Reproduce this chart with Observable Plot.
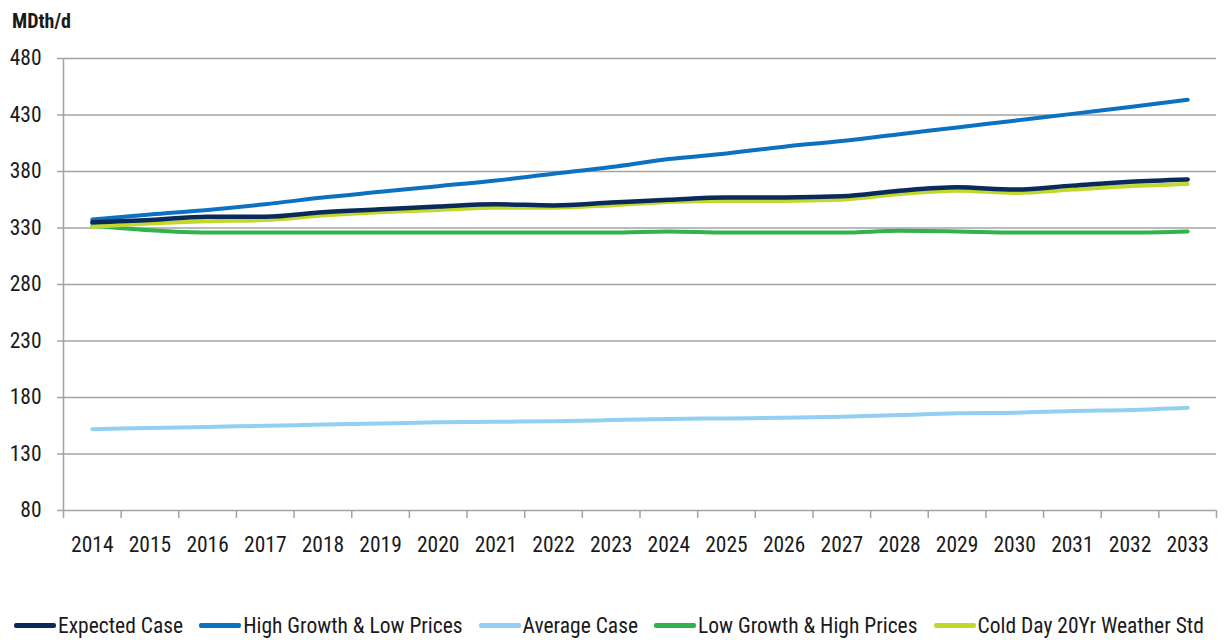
<!DOCTYPE html>
<html>
<head>
<meta charset="utf-8">
<script src="https://cdn.jsdelivr.net/npm/d3@7"></script>
<script src="https://cdn.jsdelivr.net/npm/@observablehq/plot@0.6"></script>
<style>
  html, body { margin: 0; padding: 0; background: #fff; }
  body { width: 1229px; height: 640px; position: relative; overflow: hidden;
         font-family: "Liberation Sans Narrow", "Roboto Condensed", "Liberation Sans", sans-serif; color: #1a1a1a; }
  #title { position: absolute; left: 12px; top: 9px; font-size: 20px; font-weight: bold; }
  #chart { position: absolute; left: 0; top: 40px; }
  #legend { position: absolute; left: 14px; top: 613px; display: flex; align-items: center; font-size: 21.5px; white-space: nowrap; }
  .item { display: flex; align-items: center; margin-right: 16px; }
  .sw { width: 42px; height: 5px; border-radius: 2px; margin-right: 2px; }
</style>
</head>
<body>
<div id="title">MDth/d</div>
<div id="chart"></div>
<div id="legend"></div>
<script>
const years = [2014,2015,2016,2017,2018,2019,2020,2021,2022,2023,2024,2025,2026,2027,2028,2029,2030,2031,2032,2033];
const seriesNames = ["Expected Case","High Growth & Low Prices","Average Case","Low Growth & High Prices","Cold Day 20Yr Weather Std"];
const seriesColors = ["#0b2a5c","#0a72c0","#92cff0","#2fb34a","#c3d82e"];
const expectedCase = [335,337,340,340,344,346.5,349,351,350,352.5,355,357,357,358,363,366,364,367.5,371,373];
const highGrowth   = [337.5,342,346,351,357,362,367,372,378,384,391,396,402,407,413,419,425,431,437,443.5];
const averageCase  = [152,153,154,155,156,157,158,158.5,159,160,161,161.5,162,163,164.5,166,166.5,168,169,171];
const lowGrowth    = [332,328,326,326,326,326,326,326,326,326,327,326,326,326,327.5,327,326,326,326,327];
const coldDay      = [331,334,336,337,341,344,346,348,348,350,353,354,354,355,360,363,361,364,367,369];
const yTicks = [80,130,180,230,280,330,380,430,480];

const allSeries = [expectedCase, highGrowth, averageCase, lowGrowth, coldDay];
const data = [];
allSeries.forEach((vals, s) => vals.forEach((v, i) => data.push({series: seriesNames[s], year: years[i], value: v})));
const boundaries = [years[0] - 0.5, ...years.map(y => y + 0.5)];

const drawOrder = [2, 3, 1, 4, 0]; // Average, Low, High, Cold, Expected

const chart = Plot.plot({
  width: 1229,
  height: 530,
  marginLeft: 63,
  marginRight: 13,
  marginTop: 18,
  marginBottom: 60,
  style: {fontFamily: '"Liberation Sans Narrow", "Roboto Condensed", "Liberation Sans", sans-serif', fontSize: "21.5px", color: "#1a1a1a", background: "#fff"},
  x: {type: "linear", domain: [boundaries[0], boundaries[boundaries.length - 1]]},
  y: {domain: [80, 480]},
  marks: [
    Plot.gridY(yTicks, {stroke: "#a3a3a3", strokeOpacity: 1, strokeWidth: 1.5}),
    Plot.axisY(yTicks, {tickSize: 6, tickPadding: 16, stroke: "#a3a3a3", strokeWidth: 1.5, label: null, tickFormat: d => String(d)}),
    Plot.ruleX([boundaries[0]], {stroke: "#a3a3a3", strokeWidth: 1.5}),
    Plot.axisX(boundaries, {tickSize: 8, stroke: "#a3a3a3", strokeWidth: 1.5, tickFormat: () => "", label: null}),
    Plot.axisX(years, {tickSize: 0, tickPadding: 26, tickFormat: d => String(d), label: null}),
    ...drawOrder.map(s => Plot.line(data.filter(d => d.series === seriesNames[s]), {
      x: "year", y: "value", stroke: seriesColors[s], strokeWidth: s === 0 ? 4.5 : 4, curve: "monotone-x"
    }))
  ]
});
document.getElementById("chart").appendChild(chart);

const legend = document.getElementById("legend");
seriesNames.forEach((name, i) => {
  const item = document.createElement("div");
  item.className = "item";
  const sw = document.createElement("div");
  sw.className = "sw";
  sw.style.background = seriesColors[i];
  const t = document.createElement("span");
  t.textContent = name;
  item.appendChild(sw);
  item.appendChild(t);
  legend.appendChild(item);
});
</script>
</body>
</html>
